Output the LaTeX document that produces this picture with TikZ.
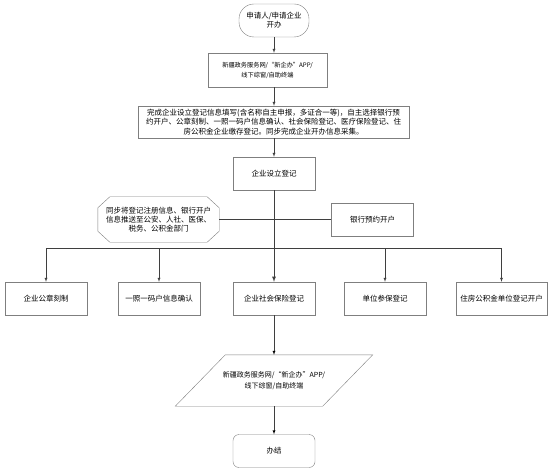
\documentclass[tikz,border=0pt]{standalone}
\usepackage{fontspec}
\setmainfont{Noto Sans CJK SC}
\usetikzlibrary{arrows}
\definecolor{boxgray}{HTML}{7F7F7F}
\definecolor{linegray}{HTML}{3F3F3F}

\begin{document}
\begin{tikzpicture}[x=1pt,y=-1pt,>=latex,thin,
    font=\fontsize{7.5}{8.8}\selectfont,
    box/.style={draw=boxgray,minimum width=82pt,minimum height=33pt,inner sep=1pt,align=center},
    flow/.style={->,draw=linegray}]
    \useasboundingbox (0,0) rectangle (553,470);
    % main column
    \node[box,rounded corners=15pt,minimum width=70pt] (apply) at (274,20.5) {申请人/申请企业\\开办};
    \node[box,minimum width=119pt,minimum height=34pt,font=\fontsize{6.2}{10}\selectfont] (web) at (267.5,70) {新疆政务服务网/“新企办”APP/\\线下综窗/自助终端};
    \node[box,minimum width=271pt,minimum height=32pt,font=\fontsize{7.5}{9.3}\selectfont] (fill) at (273.5,122) {完成企业设立登记信息填写(含名称自主申报，多证合一等)，自主选择银行预\\约开户、公章刻制、一照一码户信息确认、社会保险登记、医疗保险登记、住\\房公积金企业缴存登记。同步完成企业开办信息采集。};
    \node[box] (reg) at (274,173.5) {企业设立登记};
    % side notes
    \node[minimum width=121pt,minimum height=45pt,inner sep=0pt,align=center] (push) at (158.5,219.5) {同步将登记注册信息、银行开户\\信息推送至公安、人社、医保、\\税务、公积金部门};
    \draw[boxgray] ([xshift=12pt]push.north west) -- ([xshift=-12pt]push.north east)
      -- ([yshift=-11pt]push.north east) -- ([yshift=11pt]push.south east)
      -- ([xshift=-12pt]push.south east) -- ([xshift=12pt]push.south west)
      -- ([yshift=11pt]push.south west) -- ([yshift=-11pt]push.north west) -- cycle;
    \node[box] (bank) at (372.5,219.5) {银行预约开户};
    \coordinate (fork) at (274,248);
    % branches
    \node[box] (seal) at (46,298.5) {企业公章刻制};
    \node[box] (code) at (159,298.5) {一照一码户信息确认};
    \node[box] (social) at (274,298.5) {企业社会保险登记};
    \node[box] (unit) at (385,298.5) {单位参保登记};
    \node[box,minimum width=91pt] (fund) at (501.5,298.5) {住房公积金单位登记开户};
    % end
    \node[minimum width=147pt,minimum height=51pt,inner sep=0pt,align=center,font=\fontsize{7}{11.5}\selectfont] (portal) at (274,380.5) {新疆政务服务网/“新企办”APP/\\线下综窗/自助终端};
    \draw[boxgray] ([xshift=25pt]portal.north west) -- ([xshift=25pt]portal.north east)
      -- ([xshift=-25pt]portal.south east) -- ([xshift=-25pt]portal.south west) -- cycle;
    \node[box,rounded corners=6pt] (done) at (274,451) {办结};

    \draw[flow] (apply.south) -- (apply.south |- web.north);
    \draw[flow] (web.south -| apply.south) -- (fill.north -| apply.south);
    \draw[flow] (fill.south -| reg.north) -- (reg.north);
    \draw[flow,line width=0.8pt] (reg.south) -- (social.north);
    \draw[linegray] (push.east) -- (bank.west);
    \draw[linegray] (seal.north |- fork) -- (fund.north |- fork);
    \foreach \n in {seal,code,unit,fund}
      \draw[flow] (\n.north |- fork) -- (\n.north);
    \path[flow]
    (social) edge (portal)
    (portal) edge (done);
  \end{tikzpicture}
\end{document}
